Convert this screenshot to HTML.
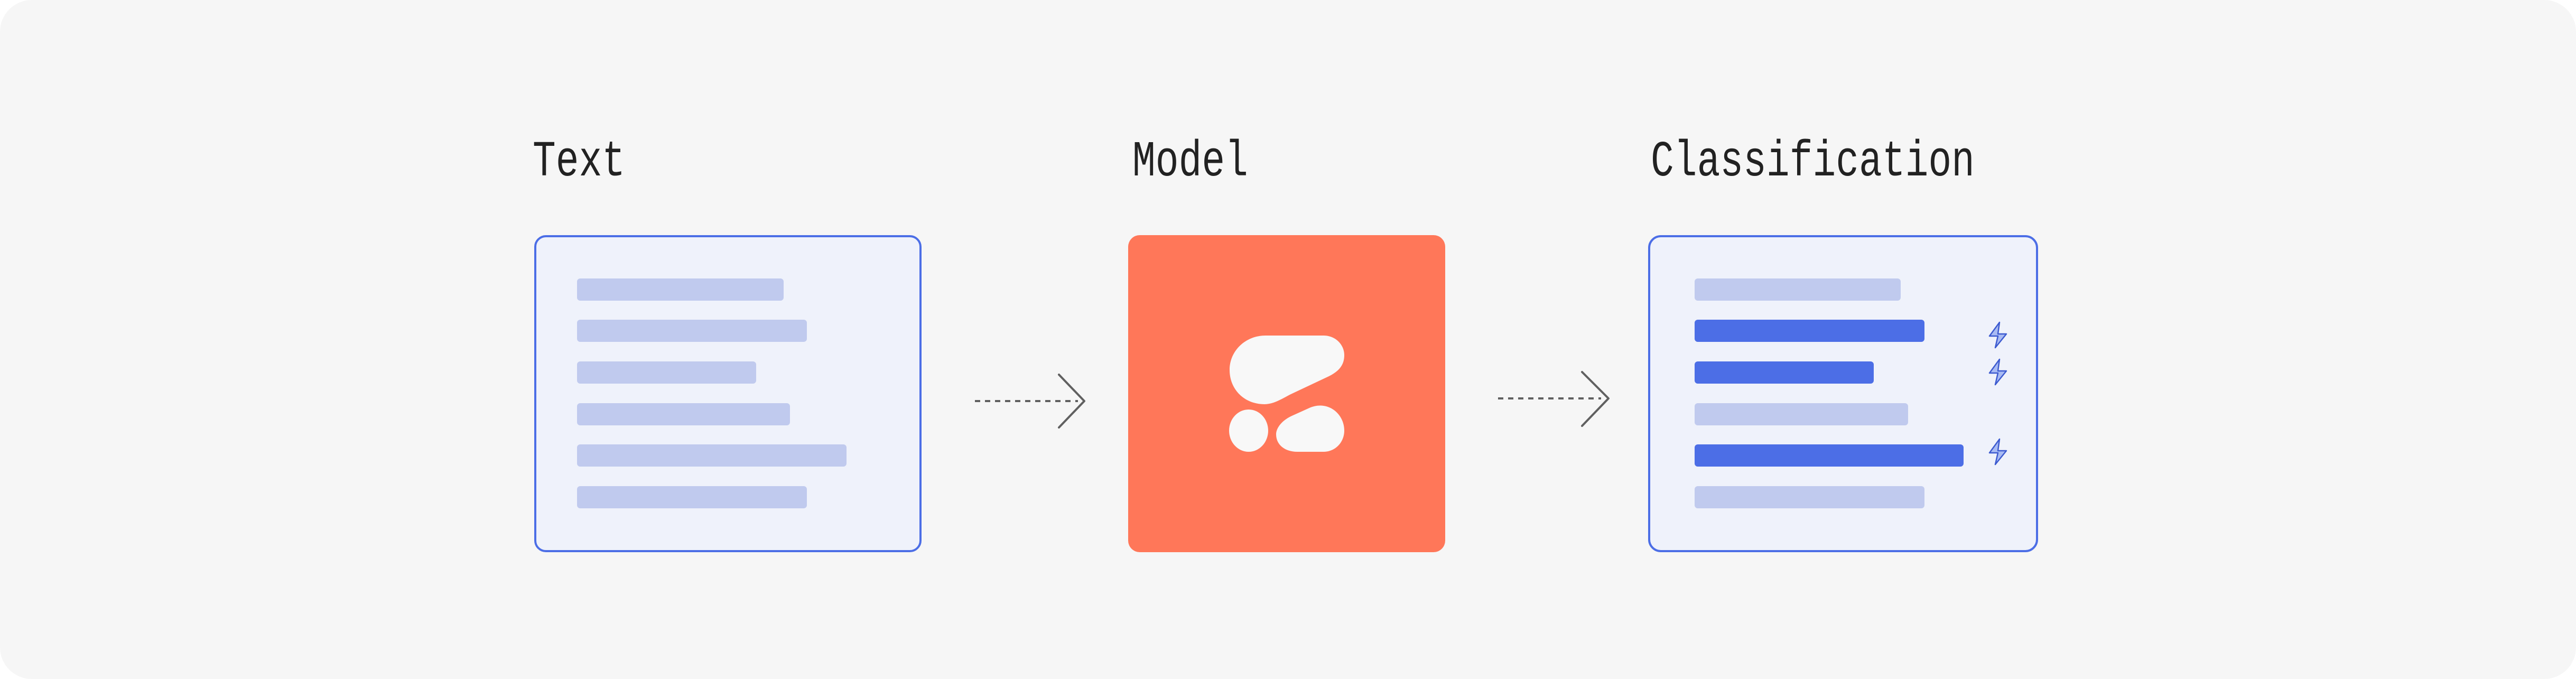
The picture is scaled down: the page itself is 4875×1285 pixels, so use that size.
<!DOCTYPE html>
<html><head><meta charset="utf-8"><style>
html,body{margin:0;padding:0;background:#fff;}
body{width:4875px;height:1285px;overflow:hidden;position:relative;}
.lbl{position:absolute;font-family:"Liberation Mono",monospace;font-size:96px;color:#222;line-height:1;transform-origin:0 0;transform:scaleX(0.76);white-space:nowrap;}
</style></head><body>
<svg width="4875" height="1285" style="position:absolute;left:0;top:0">
<rect x="0" y="0" width="4875" height="1285" rx="60" fill="#F6F6F6"/>
<rect x="1013" y="447" width="729" height="596" rx="20" fill="#EFF2FB" stroke="#4C6EE6" stroke-width="4"/>
<g fill="#C0CAEE">
<rect x="1092" y="527" width="391" height="42" rx="6"/>
<rect x="1092" y="605" width="435" height="42" rx="6"/>
<rect x="1092" y="684" width="339" height="42" rx="6"/>
<rect x="1092" y="763" width="403" height="42" rx="6"/>
<rect x="1092" y="841" width="510" height="42" rx="6"/>
<rect x="1092" y="920" width="435" height="42" rx="6"/>
</g>
<line x1="1845" y1="759" x2="2040" y2="759" stroke="#606060" stroke-width="4" stroke-dasharray="10 9"/>
<polyline points="2004,709 2052,759 2004,809" fill="none" stroke="#606060" stroke-width="4" stroke-linecap="round" stroke-linejoin="round"/>
<rect x="2135" y="445" width="600" height="600" rx="22" fill="#FF7759"/>
<g fill="#F8F8F8">
<path d="M2395 635 H2505 C2527 635 2544 652 2544 672 C2544 690 2535 702 2515 712 L2445 745 C2430 752 2412 765 2393 765 C2356 765 2327 738 2327 700 C2327 664 2357 635 2395 635 Z"/>
<ellipse cx="2363" cy="815" rx="37" ry="40"/>
<path d="M2455 855 H2505 C2527 855 2544 837 2544 815 C2544 782 2512 757 2478 772 L2447 786 C2426 795 2415 810 2415 822 C2415 842 2432 855 2455 855 Z"/>
</g>
<line x1="2835" y1="754" x2="3030" y2="754" stroke="#606060" stroke-width="4" stroke-dasharray="10 9"/>
<polyline points="2994,704 3044,754 2994,806" fill="none" stroke="#606060" stroke-width="4" stroke-linecap="round" stroke-linejoin="round"/>
<rect x="3121" y="447" width="734" height="596" rx="22" fill="#EFF2FB" stroke="#4C6EE6" stroke-width="4"/>
<rect x="3207" y="527" width="390" height="42" rx="6" fill="#C0CAEE"/>
<rect x="3207" y="605" width="435" height="42" rx="6" fill="#4C6EE6"/>
<rect x="3207" y="684" width="339" height="42" rx="6" fill="#4C6EE6"/>
<rect x="3207" y="763" width="404" height="42" rx="6" fill="#C0CAEE"/>
<rect x="3207" y="841" width="509" height="42" rx="6" fill="#4C6EE6"/>
<rect x="3207" y="920" width="435" height="42" rx="6" fill="#C0CAEE"/>
<g fill="#A9BBF3" stroke="#3D5BD0" stroke-width="2.5" stroke-linejoin="round">
<path d="M3784 610 L3765 636 L3781 636 L3776 658 L3797 632 L3781 632 Z"/>
<path d="M3784 680 L3765 706 L3781 706 L3776 728 L3797 702 L3781 702 Z"/>
<path d="M3784 831 L3765 857 L3781 857 L3776 879 L3797 853 L3781 853 Z"/>
</g>
</svg>
<div class="lbl" style="left:1008px;top:259px">Text</div>
<div class="lbl" style="left:2143px;top:259px">Model</div>
<div class="lbl" style="left:3124px;top:259px">Classification</div>
</body></html>
